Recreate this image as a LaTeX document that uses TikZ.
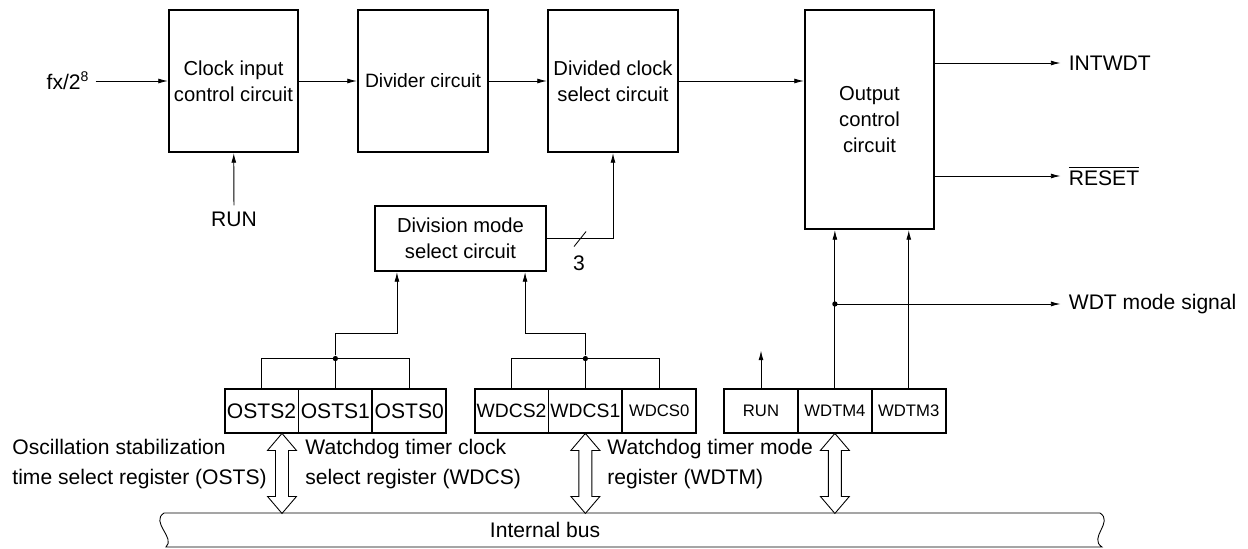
\documentclass[tikz,border=0pt]{standalone}
\usepackage{fontspec}
\setmainfont{Liberation Sans}
\usetikzlibrary{arrows.meta,calc}
\newcommand{\pxu}{0.02cm}

\tikzset{busarrow/.pic={
  \draw[line width=0.5pt,fill=white] (0,-40) -- (14.5,-23) -- (6.5,-23) -- (6.5,23) -- (14.5,23)
    -- (0,40) -- (-14.5,23) -- (-6.5,23) -- (-6.5,-23) -- (-14.5,-23) -- cycle;}}

\begin{document}
\begin{tikzpicture}[x=\pxu,y=-\pxu,
  font=\fontsize{12}{17}\selectfont,
  >={Latex[length=5.5pt,width=2.8pt]},
  line width=0.5pt,
  block/.style={draw,line width=1.2pt,inner sep=0pt,align=center,font=\fontsize{11.5}{15}\selectfont},
  field/.style={draw,line width=0.5pt,inner sep=0pt,minimum width=73*\pxu,minimum height=44*\pxu},
  small/.style={font=\fontsize{9.5}{11}\selectfont},
  lbl/.style={inner sep=0pt,align=left,anchor=west},
  sig/.style={inner sep=4.5pt,anchor=west},
  dot/.style={circle,fill,inner sep=0pt,minimum size=3pt}]
\useasboundingbox (0,0) rectangle (1248,548);

% blocks
\node[block,minimum width=129*\pxu,minimum height=142*\pxu] (clk) at (233.5,81) {Clock input\\control circuit};
\node[block,minimum width=130*\pxu,minimum height=142*\pxu,font=\fontsize{11}{15}\selectfont] (div) at (423,81) {Divider circuit};
\node[block,minimum width=130*\pxu,minimum height=142*\pxu] (dcs) at (613,81) {Divided clock\\select circuit};
\node[block,minimum width=129*\pxu,minimum height=219*\pxu] (out) at (869.5,119.5) {Output\\control\\circuit};
\node[block,minimum width=171*\pxu,minimum height=65*\pxu] (dms) at (460.5,238.5) {Division mode\\select circuit};

% registers
\node[field] (o2) at (261.5,411) {OSTS2};
\node[field,anchor=west] (o1) at (o2.east) {OSTS1};
\node[field,anchor=west] (o0) at (o1.east) {OSTS0};
\draw[line width=1.2pt] (o2.north west) rectangle (o0.south east);
\node[field,font=\fontsize{11}{13}\selectfont] (w2) at (511.5,411) {WDCS2};
\node[field,font=\fontsize{11}{13}\selectfont,anchor=west] (w1) at (w2.east) {WDCS1};
\node[field,small,anchor=west] (w0) at (w1.east) {WDCS0};
\draw[line width=1.2pt] (w2.north west) rectangle (w0.south east);
\node[field,small] (r) at (761,411) {RUN};
\node[field,small,anchor=west] (w4) at (r.east) {WDTM4};
\node[field,small,anchor=west] (w3) at (w4.east) {WDTM3};
\draw[line width=1.2pt] (r.north west) rectangle (w3.south east);

% inputs and outputs
\node (fx) at (68,81) {fx/2\textsuperscript{8}};
\node (runin) at (234,219) {RUN};
\node[sig] (intwdt) at (1060.5,63) {INTWDT};
\node[sig] (reset) at (1060.5,176) {$\overline{\mbox{RESET}}$};
\node[sig] (wdtmode) at (1060.5,304) {WDT mode signal};
\coordinate (runout) at ($(r.north)+(0,-38)$);
\coordinate (md) at (w4 |- wdtmode);

\draw[->] (fx) -- (clk);
\draw[->] (runin) -- (clk);
\draw[->] (clk) -- (div);
\draw[->] (div) -- (dcs);
\draw[->] (dcs.east) -- (dcs.east -| out.west);
\draw[->] (out.east |- intwdt.west) -- (intwdt.west);
\draw[->] (out.east |- reset.west) -- (reset.west);
\draw[->] (dms.east) -| (dcs.south);
\draw ($(dms.east)+(27,8)$) -- ++(12,-15);
\node at ($(dms.east)+(32,24.5)$) {3};

% register bits to circuits
\draw (o2.north) -- ++(0,-30) -| (o0.north);
\draw (o1.north) -- ++(0,-30) node[dot] (od) {};
\draw[->] (od) -- ++(0,-25) -| ($(dms.south west)+(23,0)$);
\draw (w2.north) -- ++(0,-30) -| (w0.north);
\draw (w1.north) -- ++(0,-30) node[dot] (wd) {};
\draw[->] (wd) -- ++(0,-25) -| ($(dms.south east)+(-22,0)$);
\draw[->] (r.north) -- (runout);
\draw[->] (w4.north) -- (w4.north |- out.south);
\draw[->] (w3.north) -- (w3.north |- out.south);
\node[dot] at (md) {};
\draw[->] (md) -- (wdtmode.west);

% internal bus
\draw (164,513) -- (1100,513) .. controls (1114,522) and (1088,538) .. (1102,547)
  -- (166,547) .. controls (176,538) and (150,522) .. (164,513);
\node (bus) at (545,530) {Internal bus};
\pic at ($(o2.south)+(20.5,40)$) {busarrow};
\pic at ($(w1.south)+(0,40)$) {busarrow};
\pic at ($(w4.south)+(0,40)$) {busarrow};

\node[lbl] (ostsname) at (12,464) {Oscillation stabilization\\time select register (OSTS)};
\node[lbl] (wdcsname) at (305,464) {Watchdog timer clock\\select register (WDCS)};
\node[lbl] (wdtmname) at (607,464) {Watchdog timer mode\\register (WDTM)};
\end{tikzpicture}
\end{document}
